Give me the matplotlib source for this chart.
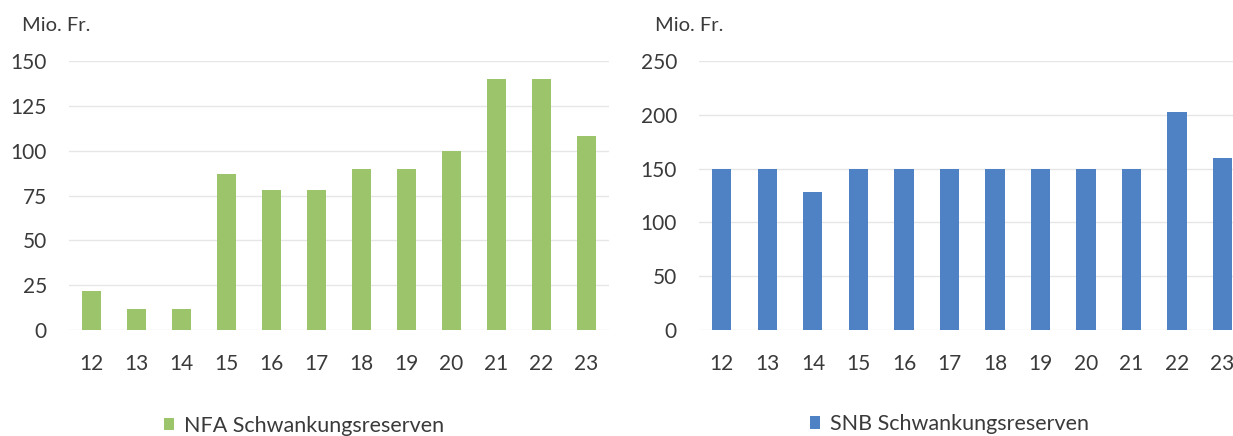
import numpy as np
import matplotlib.pyplot as plt

plt.rcParams['font.family'] = ['Lato', 'DejaVu Sans']

jahre = ['12', '13', '14', '15', '16', '17', '18', '19', '20', '21', '22', '23']
nfa_reserven = [22, 12, 12, 87, 78, 78, 90, 90, 100, 140, 140, 108]
snb_reserven = [150, 150, 128, 150, 150, 150, 150, 150, 150, 150, 203, 160]

text_farbe = '#3a3a3a'
gruen = '#9cc46b'
blau = '#4f81c5'

fig = plt.figure(figsize=(12.33, 4.36), dpi=100)


def balken(ax, werte, farbe, yticks, label):
    x = np.arange(len(jahre))
    ax.bar(x, werte, width=0.42, color=farbe, label=label, zorder=2)
    ax.set_xlim(-0.5, len(jahre) - 0.5)
    ax.set_ylim(0, yticks[-1])
    ax.set_yticks(yticks)
    ax.set_xticks(x)
    ax.set_xticklabels(jahre)
    ax.yaxis.grid(True, color='#e6e6e6', linewidth=1.0, zorder=0)
    ax.tick_params(axis='both', length=0, labelsize=15, colors=text_farbe)
    ax.tick_params(axis='x', pad=17)
    ax.tick_params(axis='y', pad=16)
    for s in ax.spines.values():
        s.set_visible(False)


ax1 = fig.add_axes([0.056, 0.243, 0.438, 0.617])
balken(ax1, nfa_reserven, gruen, [0, 25, 50, 75, 100, 125, 150], 'NFA Schwankungsreserven')
fig.text(0.018, 0.942, 'Mio. Fr.', fontsize=14.5, color=text_farbe, va='center')
ax1.legend(loc='center', bbox_to_anchor=(0.435, -0.355), frameon=False, fontsize=15.5,
           handlelength=0.5, handleheight=0.5, handletextpad=0.45, labelcolor=text_farbe)

ax2 = fig.add_axes([0.567, 0.243, 0.443, 0.617])
balken(ax2, snb_reserven, blau, [0, 50, 100, 150, 200, 250], 'SNB Schwankungsreserven')
fig.text(0.531, 0.942, 'Mio. Fr.', fontsize=14.5, color=text_farbe, va='center')
ax2.legend(loc='center', bbox_to_anchor=(0.458, -0.35), frameon=False, fontsize=15.5,
           handlelength=0.5, handleheight=0.5, handletextpad=0.45, labelcolor=text_farbe)

plt.savefig('out.png', dpi=100)
plt.close()
